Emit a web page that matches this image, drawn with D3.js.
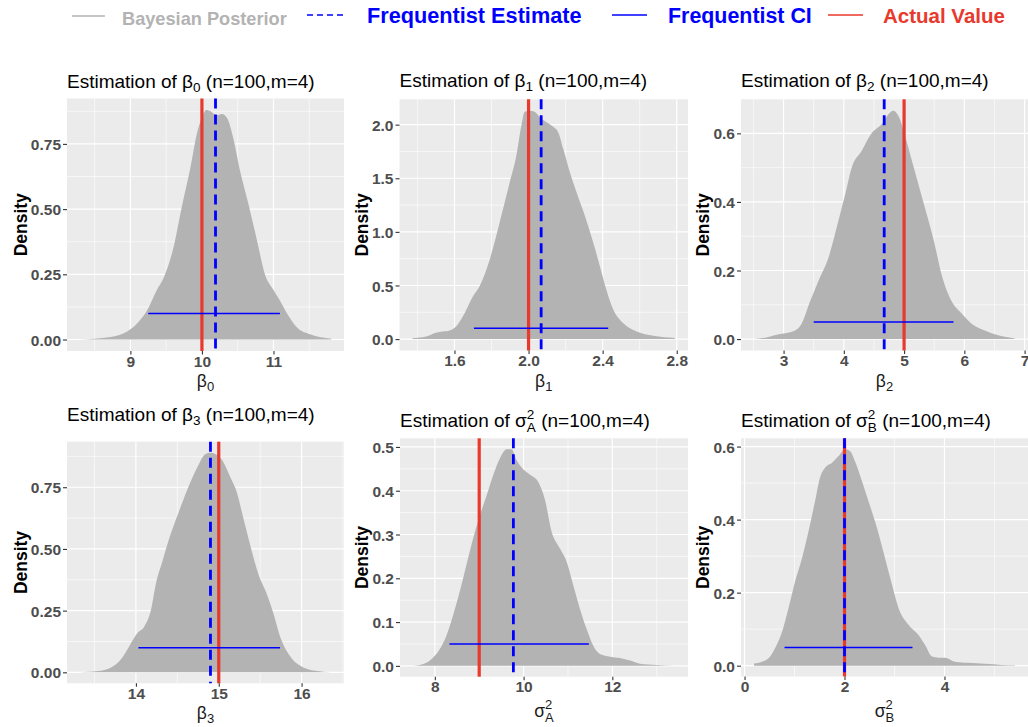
<!DOCTYPE html>
<html>
<head>
<meta charset="utf-8">
<script src="https://cdn.jsdelivr.net/npm/d3@7"></script>
<style>
  body { margin: 0; background: #fff; }
  svg { font-family: "Liberation Sans", Arial, sans-serif; }
</style>
</head>
<body>
<svg id="chart" width="1028" height="727"></svg>
<script>
// posterior density curves (x, density)
var beta0X = [8.29, 8.72, 8.95, 9.09, 9.23, 9.37, 9.47, 9.60, 9.72, 9.84, 9.93, 10.0, 10.06, 10.12, 10.2, 10.28, 10.35, 10.44, 10.53, 10.65, 10.77, 10.88, 11.0, 11.09, 11.19, 11.33, 11.51, 11.81];
var beta0Y = [0, 0.01, 0.03, 0.06, 0.11, 0.19, 0.24, 0.35, 0.51, 0.66, 0.79, 0.85, 0.88, 0.875, 0.86, 0.865, 0.85, 0.77, 0.65, 0.52, 0.38, 0.25, 0.19, 0.15, 0.10, 0.046, 0.02, 0.003];

var beta1X = [1.374, 1.447, 1.50, 1.537, 1.573, 1.61, 1.645, 1.70, 1.735, 1.79, 1.844, 1.898, 1.934, 1.961, 1.979, 2.006, 2.033, 2.06, 2.096, 2.133, 2.16, 2.187, 2.223, 2.259, 2.304, 2.349, 2.385, 2.42, 2.457, 2.51, 2.584, 2.674, 2.79];
var beta1Y = [0.01, 0.025, 0.06, 0.07, 0.08, 0.12, 0.21, 0.40, 0.49, 0.74, 1.09, 1.46, 1.71, 1.99, 2.12, 2.13, 2.12, 2.07, 2.025, 1.98, 1.93, 1.775, 1.556, 1.37, 1.15, 0.9, 0.68, 0.46, 0.275, 0.15, 0.07, 0.03, 0.01];

var beta2X = [2.51, 2.75, 2.92, 3.03, 3.19, 3.30, 3.44, 3.58, 3.75, 3.91, 4.02, 4.13, 4.30, 4.46, 4.63, 4.74, 4.82, 4.91, 5.02, 5.13, 5.24, 5.35, 5.49, 5.62, 5.79, 5.96, 6.12, 6.34, 6.56, 6.84];
var beta2Y = [0, 0.006, 0.014, 0.017, 0.025, 0.045, 0.11, 0.17, 0.24, 0.345, 0.42, 0.50, 0.55, 0.60, 0.627, 0.656, 0.666, 0.65, 0.59, 0.52, 0.45, 0.38, 0.29, 0.19, 0.11, 0.074, 0.045, 0.025, 0.011, 0.002];

var beta3X = [13.32, 13.54, 13.70, 13.82, 13.92, 14.02, 14.1, 14.18, 14.24, 14.32, 14.4, 14.5, 14.62, 14.74, 14.84, 14.9, 14.96, 15.04, 15.14, 15.22, 15.3, 15.38, 15.48, 15.58, 15.66, 15.74, 15.86, 16.02, 16.22, 16.36];
var beta3Y = [0, 0.005, 0.02, 0.053, 0.106, 0.16, 0.185, 0.25, 0.357, 0.45, 0.54, 0.634, 0.74, 0.83, 0.885, 0.89, 0.885, 0.86, 0.79, 0.727, 0.62, 0.515, 0.396, 0.317, 0.238, 0.145, 0.066, 0.02, 0.004, 0];

var sigmaAX = [7.51, 7.74, 7.92, 8.11, 8.26, 8.41, 8.56, 8.71, 8.86, 9.02, 9.17, 9.32, 9.47, 9.62, 9.73, 9.84, 9.99, 10.14, 10.33, 10.48, 10.63, 10.82, 10.97, 11.12, 11.27, 11.42, 11.57, 11.72, 11.95, 12.17, 12.4, 12.62, 13.0, 13.41];
var sigmaAY = [0, 0.004, 0.015, 0.038, 0.069, 0.115, 0.169, 0.23, 0.29, 0.345, 0.39, 0.437, 0.475, 0.495, 0.495, 0.47, 0.449, 0.437, 0.42, 0.38, 0.307, 0.268, 0.238, 0.184, 0.13, 0.084, 0.046, 0.027, 0.021, 0.018, 0.012, 0.005, 0.002, 0];

var sigmaBX = [0.19, 0.35, 0.48, 0.61, 0.75, 0.88, 1.01, 1.15, 1.28, 1.41, 1.51, 1.61, 1.75, 1.88, 2.01, 2.11, 2.21, 2.35, 2.48, 2.65, 2.81, 2.95, 3.08, 3.28, 3.48, 3.61, 3.75, 3.88, 4.01, 4.21, 4.48, 4.81, 5.15, 5.41];
var sigmaBY = [0.006, 0.011, 0.02, 0.048, 0.093, 0.158, 0.23, 0.295, 0.368, 0.45, 0.515, 0.542, 0.556, 0.574, 0.593, 0.588, 0.56, 0.505, 0.45, 0.377, 0.295, 0.222, 0.158, 0.112, 0.084, 0.057, 0.025, 0.022, 0.022, 0.011, 0.008, 0.005, 0.002, 0.001];

// reference lines per parameter
var actualValue = [10, 2, 5, 15, 9, 2];
var freqEstimate = [10.19, 2.068, 4.67, 14.9, 9.77, 2.0];
var ciLower = [9.25, 1.705, 3.5, 14.03, 8.33, 0.8];
var ciUpper = [11.09, 2.43, 5.82, 15.74, 11.47, 3.36];
var ciHeight = [0.1, 0.1, 0.05, 0.1, 0.05, 0.05];

// ticks
var xTickValues = [[9, 10, 11], [1.6, 2.0, 2.4, 2.8], [3, 4, 5, 6, 7], [14, 15, 16], [8, 10, 12], [0, 2, 4]];
var yTickValues = [[0, 0.25, 0.5, 0.75], [0, 0.5, 1, 1.5, 2], [0, 0.2, 0.4, 0.6], [0, 0.25, 0.5, 0.75], [0, 0.1, 0.2, 0.3, 0.4, 0.5], [0, 0.2, 0.4, 0.6]];
var xTickFormat = ["d", ".1f", "d", "d", "d", "d"];
var yTickFormat = [".2f", ".1f", ".1f", ".2f", ".1f", ".1f"];

// labels
var paramSymbol = ["β", "β", "β", "β", "σ", "σ"];
var paramSub = ["0", "1", "2", "3", "A", "B"];
var paramSup = ["", "", "", "", "2", "2"];
var titleSuffix = " (n=100,m=4)";
var legendLabels = ["Bayesian Posterior", "Frequentist Estimate", "Frequentist CI", "Actual Value"];

var densX = [beta0X, beta1X, beta2X, beta3X, sigmaAX, sigmaBX];
var densY = [beta0Y, beta1Y, beta2Y, beta3Y, sigmaAY, sigmaBY];

var RED = "#E8392D", BLUE = "#0000FF", FILL = "#B3B3B3";

// panel boxes in the 1028x727 picture
var boxes = [
  {l: 67,  r: 344,  t: 98.5, b: 351,   titleY: 88,  yTitleX: 21},
  {l: 399.5, r: 688, t: 99.3, b: 350.5, titleY: 86.7, yTitleX: 362},
  {l: 741, r: 1028, t: 99.3, b: 350.5,  titleY: 86.7, yTitleX: 703},
  {l: 67,  r: 344,  t: 441.7, b: 683.3, titleY: 421, yTitleX: 21},
  {l: 400, r: 688,  t: 438.3, b: 676.7, titleY: 427, yTitleX: 362},
  {l: 741, r: 1028, t: 438.3, b: 676.5, titleY: 427, yTitleX: 703}
];

var svg = d3.select("#chart");

function minorTicks(ticks, domain) {
  var step = ticks[1] - ticks[0];
  var out = [];
  for (var v = ticks[0] - step / 2; v <= domain[1]; v += step) {
    if (v >= domain[0]) out.push(v);
  }
  return out;
}

function drawPanel(i) {
  var box = boxes[i];
  var xs = densX[i], ys = densY[i];
  var ext = d3.extent(xs), pad = (ext[1] - ext[0]) * 0.05;
  var yMax = d3.max(ys);

  var x = d3.scaleLinear().domain([ext[0] - pad, ext[1] + pad]).range([box.l, box.r]);
  var y = d3.scaleLinear().domain([-yMax * 0.05, yMax * 1.05]).range([box.b, box.t]);

  var g = svg.append("g").attr("class", "panel");

  g.append("rect")
    .attr("x", box.l).attr("y", box.t)
    .attr("width", box.r - box.l).attr("height", box.b - box.t)
    .attr("fill", "#EBEBEB");

  // minor grid
  g.selectAll(".xminor").data(minorTicks(xTickValues[i], x.domain())).enter()
    .append("line")
    .attr("x1", d => x(d)).attr("x2", d => x(d))
    .attr("y1", box.t).attr("y2", box.b)
    .attr("stroke", "#fff").attr("stroke-width", 0.6);
  g.selectAll(".yminor").data(minorTicks(yTickValues[i], y.domain())).enter()
    .append("line")
    .attr("y1", d => y(d)).attr("y2", d => y(d))
    .attr("x1", box.l).attr("x2", box.r)
    .attr("stroke", "#fff").attr("stroke-width", 0.6);

  // major grid
  g.selectAll(".xmajor").data(xTickValues[i]).enter()
    .append("line")
    .attr("x1", d => x(d)).attr("x2", d => x(d))
    .attr("y1", box.t).attr("y2", box.b)
    .attr("stroke", "#fff").attr("stroke-width", 1.2);
  g.selectAll(".ymajor").data(yTickValues[i]).enter()
    .append("line")
    .attr("y1", d => y(d)).attr("y2", d => y(d))
    .attr("x1", box.l).attr("x2", box.r)
    .attr("stroke", "#fff").attr("stroke-width", 1.2);

  // density
  var area = d3.area()
    .x(d => x(d[0]))
    .y0(y(0))
    .y1(d => y(d[1]))
    .curve(d3.curveMonotoneX);
  g.append("path")
    .datum(d3.zip(xs, ys))
    .attr("d", area)
    .attr("fill", FILL);

  // actual value
  g.append("line")
    .attr("x1", x(actualValue[i])).attr("x2", x(actualValue[i]))
    .attr("y1", box.t).attr("y2", box.b)
    .attr("stroke", RED).attr("stroke-width", 3.2);

  // frequentist estimate
  g.append("line")
    .attr("x1", x(freqEstimate[i])).attr("x2", x(freqEstimate[i]))
    .attr("y1", box.t).attr("y2", box.b)
    .attr("stroke", BLUE).attr("stroke-width", 2.8)
    .attr("stroke-dasharray", "10,6");

  // frequentist CI
  g.append("line")
    .attr("x1", x(ciLower[i])).attr("x2", x(ciUpper[i]))
    .attr("y1", y(ciHeight[i])).attr("y2", y(ciHeight[i]))
    .attr("stroke", BLUE).attr("stroke-width", 1.5);

  // axes
  var xAxis = g.append("g")
    .attr("transform", "translate(0," + box.b + ")")
    .call(d3.axisBottom(x).tickValues(xTickValues[i]).tickFormat(d3.format(xTickFormat[i])).tickSize(3.5).tickPadding(1));
  var yAxis = g.append("g")
    .attr("transform", "translate(" + box.l + ",0)")
    .call(d3.axisLeft(y).tickValues(yTickValues[i]).tickFormat(d3.format(yTickFormat[i])).tickSize(4).tickPadding(2));

  [xAxis, yAxis].forEach(function(a) {
    a.select(".domain").remove();
    a.selectAll(".tick line").attr("stroke", "#333").attr("stroke-width", 1.1);
    a.selectAll(".tick text")
      .attr("fill", "#4D4D4D")
      .style("font-size", "15.5px")
      .style("font-weight", "bold")
      .style("font-family", "'Liberation Sans', Arial, sans-serif");
  });
  yAxis.selectAll(".tick text").attr("dy", "0.36em");

  // y title
  g.append("text")
    .attr("transform", "translate(" + box.yTitleX + "," + ((box.t + box.b) / 2) + ") rotate(-90)")
    .attr("text-anchor", "middle")
    .attr("dy", "0.36em")
    .style("font-size", "17.5px")
    .style("font-weight", "bold")
    .attr("fill", "#000")
    .text("Density");

  // x title
  var xt = g.append("text")
    .attr("x", (box.l + box.r) / 2)
    .attr("y", paramSup[i] ? box.b + 40 : box.b + 36)
    .attr("text-anchor", "middle")
    .style("font-size", "17.5px")
    .attr("fill", "#1A1A1A");
  addSymbol(xt, i, 13);

  // plot title
  var tt = svg.append("text")
    .attr("x", box.l)
    .attr("y", box.titleY)
    .style("font-size", "19px")
    .attr("fill", "#000");
  tt.append("tspan").text("Estimation of ");
  addSymbol(tt, i, 13.5);
  tt.append("tspan").attr("dy", paramSup[i] ? -5 : -4).text(titleSuffix);
}

function addSymbol(sel, i, small) {
  sel.append("tspan").text(paramSymbol[i]);
  if (paramSup[i]) {
    sel.append("tspan").attr("dy", -8).style("font-size", small + "px").text(paramSup[i]);
    sel.append("tspan").attr("dx", -small * 0.556).attr("dy", 13).style("font-size", small + "px").text(paramSub[i]);
  } else {
    sel.append("tspan").attr("dy", 4).style("font-size", small + "px").text(paramSub[i]);
  }
}

d3.range(6).forEach(drawPanel);

// legend
var legendColor = ["#B3B3B3", BLUE, BLUE, RED];
var legendDash = [null, "6,4", null, null];
var legendLayout = [
  {k0: 72, k1: 105, tx: 122, size: 18.2, base: 25, ky: 16},
  {k0: 307, k1: 345, tx: 367, size: 21.7, base: 23, ky: 15},
  {k0: 612, k1: 647, tx: 668, size: 21.4, base: 23, ky: 15},
  {k0: 828, k1: 863, tx: 883, size: 20.5, base: 23, ky: 15}
];
var legend = svg.append("g").attr("class", "legend");
legendLabels.forEach(function(lab, j) {
  var p = legendLayout[j];
  legend.append("line")
    .attr("x1", p.k0).attr("x2", p.k1)
    .attr("y1", p.ky).attr("y2", p.ky)
    .attr("stroke", legendColor[j])
    .attr("stroke-width", 1.6)
    .attr("stroke-dasharray", legendDash[j]);
  legend.append("text")
    .attr("x", p.tx).attr("y", p.base)
    .style("font-size", p.size + "px")
    .style("font-weight", "bold")
    .attr("fill", legendColor[j])
    .text(lab);
});
</script>
</body>
</html>
